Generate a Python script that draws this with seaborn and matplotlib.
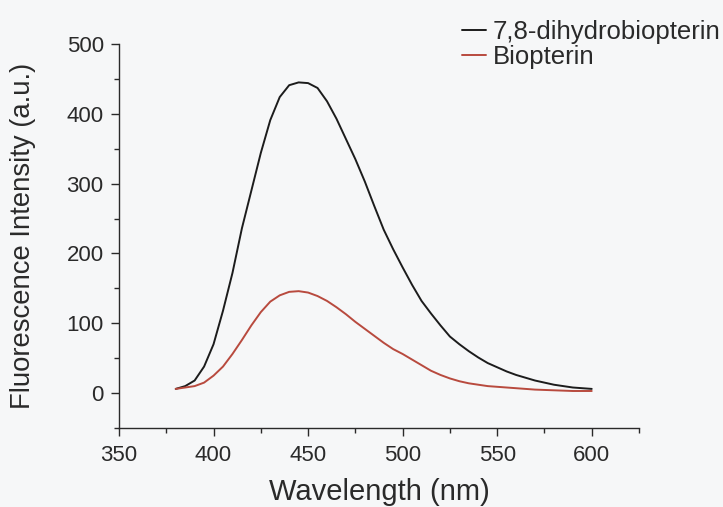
import numpy as np
import pandas as pd
import matplotlib
matplotlib.use("Agg")
import matplotlib.pyplot as plt
from matplotlib.ticker import MultipleLocator
from matplotlib.lines import Line2D
import seaborn as sns

wavelength = [380, 385, 390, 395, 400, 405, 410, 415, 420, 425, 430, 435, 440, 445,
              450, 455, 460, 465, 470, 475, 480, 485, 490, 495, 500, 505, 510, 515,
              520, 525, 530, 535, 540, 545, 550, 555, 560, 565, 570, 575, 580, 585,
              590, 595, 600]

dihydrobiopterin = [6, 10, 18, 38, 70, 118, 172, 236, 290, 344, 391, 424, 441, 445,
                    444, 437, 418, 393, 364, 335, 303, 268, 234, 206, 180, 155, 132, 114,
                    97, 81, 70, 60, 51, 43, 37, 31, 26, 22, 18, 15, 12, 10,
                    8, 7, 6]

biopterin = [6, 8, 10, 15, 25, 38, 56, 76, 97, 116, 131, 140, 145, 146,
             144, 139, 132, 123, 113, 102, 92, 82, 72, 63, 56, 48, 40, 32,
             26, 21, 17, 14, 12, 10, 9, 8, 7, 6, 5, 4.5, 4, 3.5,
             3, 3, 3]

series_names = ["7,8-dihydrobiopterin", "Biopterin"]
series_colors = ["#1c1c1c", "#b84a3e"]

df = pd.DataFrame({
    "Wavelength": wavelength * 2,
    "Intensity": dihydrobiopterin + biopterin,
    "Series": [series_names[0]] * len(wavelength) + [series_names[1]] * len(wavelength),
})

sns.set_style("ticks")
plt.rcParams["font.family"] = ["Liberation Sans", "DejaVu Sans"]

bg = "#f6f7f8"
tc = "#2a2a2a"
fig = plt.figure(figsize=(7.23, 5.07), dpi=100, facecolor=bg)
ax = fig.add_axes([119 / 723, 1 - 428 / 507, (639 - 119) / 723, (428 - 44) / 507])
ax.set_facecolor(bg)

sns.lineplot(data=df, x="Wavelength", y="Intensity", hue="Series",
             palette=dict(zip(series_names, series_colors)), linewidth=1.4,
             ax=ax, legend=False)
for ln in ax.get_lines():
    ln.set_solid_joinstyle("round")

ax.set_xlim(350, 625)
ax.set_ylim(-50, 500)
ax.xaxis.set_major_locator(MultipleLocator(50))
ax.xaxis.set_minor_locator(MultipleLocator(25))
ax.yaxis.set_major_locator(MultipleLocator(100))
ax.yaxis.set_minor_locator(MultipleLocator(50))

for s in ["top", "right"]:
    ax.spines[s].set_visible(False)
for s in ["left", "bottom"]:
    ax.spines[s].set_color(tc)
    ax.spines[s].set_linewidth(1.0)

ax.tick_params(which="major", direction="out", length=6, width=1.0, color=tc,
               labelsize=16, labelcolor=tc, pad=5)
ax.tick_params(which="minor", direction="out", length=3.5, width=1.0, color=tc)
ax.tick_params(axis="x", which="major", pad=6)

ax.set_xlabel("Wavelength (nm)", fontsize=21, color=tc, labelpad=9)
ax.set_ylabel("Fluorescence Intensity (a.u.)", fontsize=19.8, color=tc, labelpad=22)

handles = [Line2D([0], [0], color=c, lw=1.4) for c in series_colors]
fig.legend(handles, series_names, loc="upper left",
           bbox_to_anchor=(462 / 723, 1 - 20 / 507), frameon=False,
           fontsize=18.5, handlelength=0.95, handletextpad=0.25,
           labelspacing=0.05, borderpad=0, borderaxespad=0,
           labelcolor=tc)

fig.savefig("out.png", dpi=100, facecolor=bg)
